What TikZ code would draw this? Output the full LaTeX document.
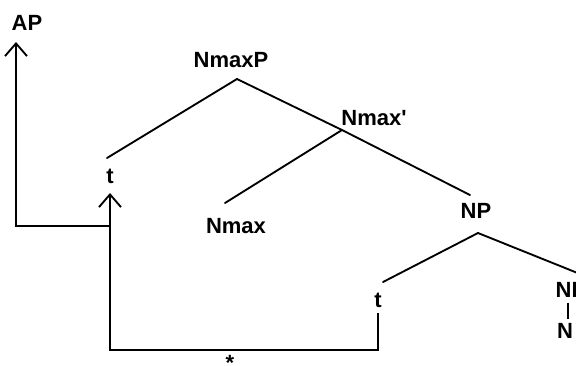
\documentclass[tikz,border=0pt]{standalone}
\usepackage{fontspec}
\setmainfont{Liberation Sans}
\usetikzlibrary{arrows.meta}
\begin{document}
\begin{tikzpicture}[x=0.75pt,y=-0.75pt,
  lbl/.style={font=\fontsize{16.5}{18}\selectfont\bfseries, inner sep=0pt, anchor=base},
  edge/.style={line width=1.4pt, line cap=round, line join=miter},
  mv/.style={line width=1.4pt, line join=miter},
  tip/.style={-{Straight Barb[length=9.5pt,width=16.5pt,line width=1.4pt]}}]
\useasboundingbox (0,0) rectangle (576,365);
% labels
\node[lbl] (AP) at (27,30) {AP};
\node[lbl] (NmaxP) at (231,67) {NmaxP};
\node[lbl] (Nmaxb) at (374,125) {Nmax\textquotesingle};
\node[lbl] (t1) at (110,183) {t};
\node[lbl] (Nmax) at (236,233) {Nmax};
\node[lbl] (NP) at (476,218) {NP};
\node[lbl] (t2) at (378,307) {t};
\node[lbl] (NP2) at (571,297) {NP};
\node[lbl] (N2) at (565,338) {N};
\node[lbl] (star) at (230,370) {*};
% tree junctions
\coordinate (jNmaxP) at (237,79);
\coordinate (jNmaxb) at (342,130);
\coordinate (jNP) at (478,233);
\coordinate (eT1) at (107,158);
\coordinate (eNmax) at (225,203);
\coordinate (eNP) at (470,195);
\coordinate (eT2) at (383,282);
\coordinate (eR) at (600,282);
\coordinate (vb) at (567.5,0);
\draw[edge] (jNmaxP) -- (eT1);
\draw[edge] (jNmaxP) -- (jNmaxb) -- (eNP);
\draw[edge] (jNmaxb) -- (eNmax);
\draw[edge] (jNP) -- (eT2);
\draw[edge] (jNP) -- (eR);
\draw[line width=1.5pt] ([yshift=-4pt]NP2.south -| vb) -- ([yshift=3pt]N2.north -| vb);
% movement arrows
\coordinate (apTip) at (16,42);
\coordinate (apCorner) at (16,226);
\coordinate (t1Join) at (110,226);
\coordinate (t1Tip) at (110,193);
\coordinate (bl) at (110,350);
\coordinate (br) at (378,350);
\coordinate (t2Foot) at (378,313);
\draw[mv,tip] (t1Join) -- (apCorner) -- (apTip);
\draw[mv,tip] (t2Foot) -- (br) -- (bl) -- (t1Tip);
\end{tikzpicture}
\end{document}
